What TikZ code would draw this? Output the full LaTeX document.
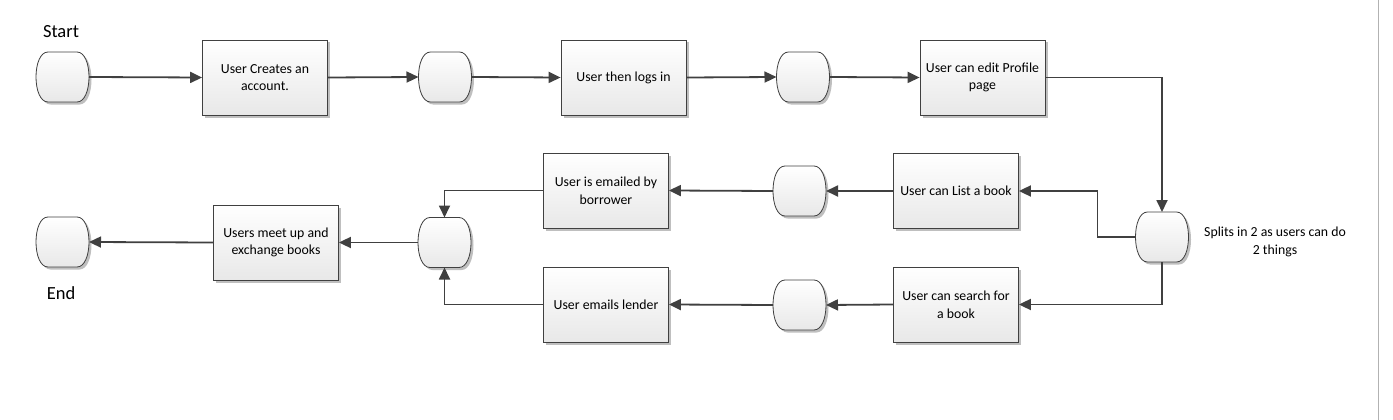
\documentclass[tikz,border=0pt]{standalone}
\usepackage{fontspec}
\setmainfont{Carlito}
\usetikzlibrary{arrows.meta,shadows}
\definecolor{linec}{HTML}{404040}
\tikzset{
  box/.style={draw=linec, line width=0.8pt, top color=white, bottom color=black!9,
    minimum width=125pt, minimum height=75pt, align=center, inner sep=2pt,
    font=\fontsize{13.8}{17.7}\selectfont,
    drop shadow={shadow xshift=2.5pt, shadow yshift=-2.5pt, opacity=0.25, fill=black}},
  term/.style={minimum width=53pt, minimum height=50pt, inner sep=0pt, outer sep=0pt},
  termfill/.style={draw=linec, line width=0.8pt, top color=white, bottom color=black!9,
    drop shadow={shadow xshift=2.5pt, shadow yshift=-2.5pt, opacity=0.25, fill=black}},
  arr/.style={draw=linec, line width=1.8pt, -{Triangle[length=12pt,width=11pt]}},
  lbl/.style={font=\fontsize{18.5}{22}\selectfont, text=black},
  note/.style={font=\fontsize{13.8}{17.7}\selectfont, align=center}
}
\newcommand\termshape[1]{%
  \path[termfill] ([xshift=12pt]#1.north west) -- ([xshift=-12pt]#1.north east)
    .. controls ([xshift=4pt]#1.north east) and ([xshift=4pt]#1.south east) .. ([xshift=-12pt]#1.south east)
    -- ([xshift=12pt]#1.south west)
    .. controls ([xshift=-4pt]#1.south west) and ([xshift=-4pt]#1.north west) .. cycle;}
\begin{document}
\begin{tikzpicture}[x=1pt,y=-1pt]
\useasboundingbox (0,0) rectangle (1393,420);
\draw[black!30, line width=0.8pt] (1378,0) -- (1378,420);
% top row
\node[term] (s) at (62.5,77) {};
\node[lbl] (slbl) at (61,32) {Start};
\node[box] (b1) at (265,77.5) {User Creates an\\account.};
\node[term] (t2) at (445,77) {};
\node[box] (b2) at (623.5,77.5) {User then logs in};
\node[term] (t3) at (803,77) {};
\node[box] (b3) at (982.5,77.5) {User can edit Profile\\page};
% split
\node[term] (sp) at (1162,237) {};
\node[note] (splbl) at (1275,242) {Splits in 2 as users can do\\2 things};
% middle rows
\node[box] (bl) at (956,191) {User can List a book};
\node[box] (bs) at (956,304.5) {User can search for\\a book};
\node[term] (tl) at (799.5,191) {};
\node[term] (ts) at (799.5,305) {};
\node[box] (be) at (606,190.5) {User is emailed by\\borrower};
\node[box] (bn) at (606,304.5) {User emails lender};
\node[term] (m) at (444.5,242.5) {};
\node[box] (bx) at (276,242.5) {Users meet up and\\exchange books};
\node[term] (e) at (62.5,242) {};
\node[lbl] (elbl) at (61,293) {End};
\foreach \n in {s,t2,t3,sp,tl,ts,m,e} {\termshape{\n}}
% connectors
\draw[arr] (s.east) -- (b1.west);
\draw[arr] (b1.east) -- (t2.west);
\draw[arr] (t2.east) -- (b2.west);
\draw[arr] (b2.east) -- (t3.west);
\draw[arr] (t3.east) -- (b3.west);
\draw[arr] (b3.east) -| (sp.north);
\draw[arr] (sp.west) -- ([xshift=-38pt]sp.west) |- (bl.east);
\draw[arr] (sp.south) |- (bs.east);
\draw[arr] (bl.west) -- (tl.east);
\draw[arr] (bs.west) -- (ts.east);
\draw[arr] (tl.west) -- (be.east);
\draw[arr] (ts.west) -- (bn.east);
\draw[arr] (be.west) -| (m.north);
\draw[arr] (bn.west) -| (m.south);
\draw[arr] (m.west) -- (bx.east);
\draw[arr] (bx.west) -- (e.east);
\end{tikzpicture}
\end{document}
